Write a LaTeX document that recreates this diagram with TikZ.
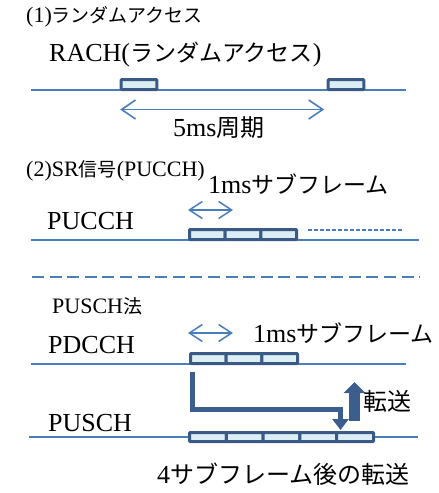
\documentclass[tikz,border=0pt]{standalone}
\usepackage{fontspec}
\setmainfont{Liberation Serif}
\newfontfamily\cjk{Noto Sans CJK JP}
\usetikzlibrary{arrows.meta}
\definecolor{lineblue}{HTML}{4A7EBB}
\definecolor{boxedge}{HTML}{3A5A85}
\definecolor{boxfill}{HTML}{DBEEF4}
\definecolor{arrowc}{HTML}{3B5E8C}
\newcommand{\Jb}[1]{{\cjk\fontsize{23}{28}\selectfont #1}}
\newcommand{\Jc}[1]{{\cjk\fontsize{24}{28}\selectfont #1}}
\newcommand{\Js}[1]{{\cjk\fontsize{19}{22}\selectfont #1}}
\tikzset{
  big/.style={font=\fontsize{26}{30}\selectfont, inner sep=0pt, anchor=base west},
  small/.style={font=\fontsize{22}{26}\selectfont, inner sep=0pt, anchor=base west},
  tline/.style={draw=lineblue, line width=1.3pt},
  slot/.style={draw=boxedge, fill=boxfill, line width=3pt, minimum width=35.7pt,
    minimum height=10pt, inner sep=0pt, rounded corners=0.8pt},
  pslot/.style={slot, minimum width=36.8pt, minimum height=9pt},
  span/.style={draw=lineblue, line width=1.6pt,
    {Straight Barb[length=14pt 0 0,width=19pt 0 0]}-{Straight Barb[length=14pt 0 0,width=19pt 0 0]}},
  sspan/.style={draw=lineblue, line width=1.5pt,
    {Straight Barb[length=13pt 0 0,width=17pt 0 0]}-{Straight Barb[length=13pt 0 0,width=17pt 0 0]}},
  bigarr/.style={draw=arrowc, line width=5pt, line join=miter,
    -{Triangle[width=16pt 0 0,length=11pt 0 0]}},
  uparr/.style={draw=arrowc, line width=11pt, -{Triangle[width=21pt 0 0,length=11pt 0 0]}},
  sep/.style={draw=lineblue, line width=2pt, dash pattern=on 12pt off 5.6pt},
  thindash/.style={draw=lineblue, line width=1.2pt, dash pattern=on 4pt off 2pt}
}
\begin{document}
\begin{tikzpicture}[x=1pt,y=-1pt]
\useasboundingbox (0,0) rectangle (439,493);

% ---- (1) random access
\node[small] (h1) at (26,22) {(1)\Js{ランダムアクセス}};
\node[big] (rach) at (49,61) {RACH(\Jb{ランダムアクセス})};
\coordinate (l1a) at (31,90);
\coordinate (l1b) at (406,90);
\draw[tline] (l1a) -- (l1b);
\node[slot, minimum height=10pt] (r1) at (139,84.5) {};
\node[slot, minimum height=10pt] (r2) at (346,84.5) {};
\draw[span] ([xshift=0.5pt,yshift=-18.5pt]r1.south west) -- ([xshift=-2.5pt,yshift=-18.5pt]r2.south west);
\node[big] (period) at (173,136) {5ms\Jc{周期}};

% ---- (2) SR
\node[small] (h2) at (26,176) {(2)SR\Js{信号}(PUCCH)};
\node[big] (sub2) at (208,193) {1ms\Jb{サブフレーム}};
\node[big] (pucch) at (47,229) {PUCCH};
\coordinate (l2a) at (31,240);
\coordinate (l2b) at (419,240);
\draw[tline] (l2a) -- (l2b);
\node[slot] (p1) at (207.35,234.5) {};
\node[slot] (p2) at (243.05,234.5) {};
\node[slot] (p3) at (278.75,234.5) {};
\coordinate (d2a) at (308,230);
\coordinate (d2b) at (402,230);
\draw[thindash] (d2a) -- (d2b);
\coordinate (s2a) at (188,210);
\coordinate (s2b) at (233,210);
\draw[sspan] (s2a) -- (s2b);

% ---- separator
\coordinate (sepa) at (32,277);
\coordinate (sepb) at (420,277);
\draw[sep] (sepa) -- (sepb);

% ---- PUSCH method
\node[small] (h3) at (52,313) {PUSCH\Js{法}};
\node[big] (sub3) at (253,342) {1ms\Jb{サブフレーム}};
\node[big] (pdcch) at (48,353) {PDCCH};
\coordinate (l3a) at (31,364);
\coordinate (l3b) at (406,364);
\draw[tline] (l3a) -- (l3b);
\node[slot] (d1) at (208.35,358.5) {};
\node[slot] (d2) at (244.05,358.5) {};
\node[slot] (d3) at (279.75,358.5) {};
\coordinate (s3a) at (188,333);
\coordinate (s3b) at (233,333);
\draw[sspan] (s3a) -- (s3b);

\node[big] (pusch) at (48,431) {PUSCH};
\coordinate (l4a) at (29,437);
\coordinate (l4b) at (418,437);
\draw[tline] (l4a) -- (l4b);
\node[pslot] (u1) at (207.9,437) {};
\node[pslot] (u2) at (244.7,437) {};
\node[pslot] (u3) at (281.5,437) {};
\node[pslot] (u4) at (318.3,437) {};
\node[pslot] (u5) at (355.1,437) {};

\coordinate (lstart) at (192.5,372);
\coordinate (lbend) at (192.5,409);
\coordinate (ltip) at (340.5,430);
\draw[bigarr] (lstart) -- (lbend) -| (ltip);
\coordinate (upa) at (354.5,421);
\coordinate (upb) at (354.5,382);
\draw[uparr] (upa) -- (upb);
\node[big] (xfer) at (363,410) {\Jc{転送}};
\node[big] (after) at (157,483) {4\Jc{サブフレーム後の転送}};
\end{tikzpicture}
\end{document}
